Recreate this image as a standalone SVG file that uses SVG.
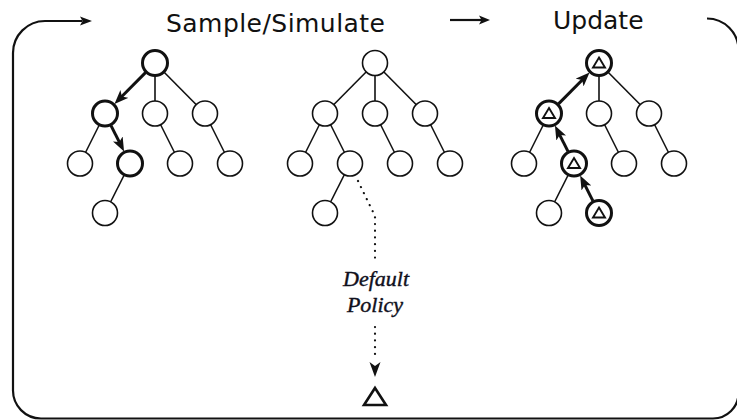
<svg xmlns="http://www.w3.org/2000/svg" width="737" height="420" viewBox="0 0 737 420">
  <style>
    .title { font-family: "DejaVu Sans", Verdana, sans-serif; font-size: 25px; fill: #111; }
    .policy { font-family: "Liberation Serif", "Times New Roman", serif; font-style: italic; font-size: 22px; fill: #10101c; stroke: #10101c; stroke-width: 0.4; text-anchor: middle; }
    .edge { stroke: #111; stroke-width: 1.6; fill: none; }
    .bold-edge { stroke: #111; stroke-width: 3; fill: none; marker-end: url(#head); }
    .node { fill: #fff; stroke: #111; stroke-width: 1.6; }
    .node-bold { fill: #fff; stroke: #111; stroke-width: 3; }
    .tri { fill: #fff; stroke: #111; stroke-width: 1.9; stroke-linejoin: miter; }
    .frame { fill: none; stroke: #111; stroke-width: 2.2; }
    .dots { fill: none; stroke: #111; stroke-width: 2.2; stroke-linecap: round; stroke-dasharray: 0.1 6.6; }
  </style>
  <defs>
    <marker id="head" markerUnits="userSpaceOnUse" markerWidth="14" markerHeight="11" viewBox="0 0 14 11" refX="5" refY="5.5" orient="auto">
      <path d="M0,0 L14,5.5 L0,11 L3.5,5.5 z" fill="#111"/>
    </marker>
  </defs>

  <!-- outer cycle frame with arrows -->
  <g id="cycle">
    <path class="frame" d="M82,21 L45,21 A32,32 0 0 0 13,53 L13,390 A28,28 0 0 0 41,418.5 L713,418.5 A25.5,25.5 0 0 0 738.5,393 L738.5,50 A31.5,31.5 0 0 0 707,18.5"/>
    <polygon points="80,16.5 92,21 80,25.5 82.5,21" fill="#111"/>
    <line x1="450" y1="20" x2="482" y2="20" stroke="#111" stroke-width="2.2"/>
    <polygon points="479,15.5 490,20 479,24.5 481.5,20" fill="#111"/>
  </g>

  <!-- titles -->
  <g id="label-sample">
    <text class="title" x="166" y="32" textLength="219" lengthAdjust="spacing">Sample/Simulate</text>
  </g>
  <g id="label-update">
    <text class="title" x="553" y="29">Update</text>
  </g>

  <!-- connectors -->
  <g id="connectors">
    <!-- tree 1 -->
    <line class="edge" x1="155" y1="63" x2="155" y2="113.5"/>
    <line class="edge" x1="155" y1="63" x2="205" y2="113.5"/>
    <line class="edge" x1="105" y1="113.5" x2="80" y2="163.5"/>
    <line class="edge" x1="155" y1="113.5" x2="180" y2="163.5"/>
    <line class="edge" x1="205" y1="113.5" x2="230" y2="163.5"/>
    <line class="edge" x1="130" y1="163.5" x2="105" y2="213"/>
    <line class="bold-edge" x1="145.5" y1="72.6" x2="120.8" y2="97.5"/>
    <line class="bold-edge" x1="111" y1="125.6" x2="120" y2="143.4"/>

    <!-- tree 2 -->
    <line class="edge" x1="375" y1="63" x2="325" y2="113.5"/>
    <line class="edge" x1="375" y1="63" x2="375" y2="113.5"/>
    <line class="edge" x1="375" y1="63" x2="425" y2="113.5"/>
    <line class="edge" x1="325" y1="113.5" x2="300" y2="163.5"/>
    <line class="edge" x1="325" y1="113.5" x2="350" y2="163.5"/>
    <line class="edge" x1="375" y1="113.5" x2="400" y2="163.5"/>
    <line class="edge" x1="425" y1="113.5" x2="450" y2="163.5"/>
    <line class="edge" x1="350" y1="163.5" x2="325" y2="213"/>

    <!-- tree 3 -->
    <line class="edge" x1="599" y1="63" x2="599" y2="113.5"/>
    <line class="edge" x1="599" y1="63" x2="649" y2="113.5"/>
    <line class="edge" x1="549" y1="113.5" x2="524" y2="163.5"/>
    <line class="edge" x1="599" y1="113.5" x2="624" y2="163.5"/>
    <line class="edge" x1="649" y1="113.5" x2="674" y2="163.5"/>
    <line class="edge" x1="574" y1="163.5" x2="549" y2="213"/>
    <line class="bold-edge" x1="592.9" y1="200.9" x2="584.2" y2="183.6"/>
    <line class="bold-edge" x1="568" y1="151.4" x2="559" y2="133.6"/>
    <line class="bold-edge" x1="558.5" y1="103.9" x2="583.2" y2="79"/>

    <!-- default policy rollout -->
    <path class="dots" d="M358,181 L375,216 L375,262"/>
    <path class="dots" d="M375,327 L375,360"/>
    <path d="M369.5,362 L375,366 L380.5,362 L375,377 z" fill="#111"/>
  </g>

  <!-- tree 1 nodes -->
  <g id="t1-root"><circle class="node-bold" cx="155" cy="63" r="12.5"/></g>
  <g id="t1-a"><circle class="node-bold" cx="105" cy="113.5" r="12.5"/></g>
  <g id="t1-b"><circle class="node" cx="155" cy="113.5" r="12.5"/></g>
  <g id="t1-c"><circle class="node" cx="205" cy="113.5" r="12.5"/></g>
  <g id="t1-aa"><circle class="node" cx="80" cy="163.5" r="12.5"/></g>
  <g id="t1-ab"><circle class="node-bold" cx="130" cy="163.5" r="12.5"/></g>
  <g id="t1-ba"><circle class="node" cx="180" cy="163.5" r="12.5"/></g>
  <g id="t1-ca"><circle class="node" cx="230" cy="163.5" r="12.5"/></g>
  <g id="t1-aba"><circle class="node" cx="105" cy="213" r="12.5"/></g>

  <!-- tree 2 nodes -->
  <g id="t2-root"><circle class="node" cx="375" cy="63" r="12.5"/></g>
  <g id="t2-a"><circle class="node" cx="325" cy="113.5" r="12.5"/></g>
  <g id="t2-b"><circle class="node" cx="375" cy="113.5" r="12.5"/></g>
  <g id="t2-c"><circle class="node" cx="425" cy="113.5" r="12.5"/></g>
  <g id="t2-aa"><circle class="node" cx="300" cy="163.5" r="12.5"/></g>
  <g id="t2-ab"><circle class="node" cx="350" cy="163.5" r="12.5"/></g>
  <g id="t2-ba"><circle class="node" cx="400" cy="163.5" r="12.5"/></g>
  <g id="t2-ca"><circle class="node" cx="450" cy="163.5" r="12.5"/></g>
  <g id="t2-aba"><circle class="node" cx="325" cy="213" r="12.5"/></g>

  <!-- tree 3 nodes -->
  <g id="t3-root"><circle class="node-bold" cx="599" cy="63" r="12.5"/><polygon class="tri" points="599,57.5 605,67.5 593,67.5"/></g>
  <g id="t3-a"><circle class="node-bold" cx="549" cy="113.5" r="12.5"/><polygon class="tri" points="549,108 555,118 543,118"/></g>
  <g id="t3-b"><circle class="node" cx="599" cy="113.5" r="12.5"/></g>
  <g id="t3-c"><circle class="node" cx="649" cy="113.5" r="12.5"/></g>
  <g id="t3-aa"><circle class="node" cx="524" cy="163.5" r="12.5"/></g>
  <g id="t3-ab"><circle class="node-bold" cx="574" cy="163.5" r="12.5"/><polygon class="tri" points="574,158 580,168 568,168"/></g>
  <g id="t3-ba"><circle class="node" cx="624" cy="163.5" r="12.5"/></g>
  <g id="t3-ca"><circle class="node" cx="674" cy="163.5" r="12.5"/></g>
  <g id="t3-aba"><circle class="node" cx="549" cy="213" r="12.5"/></g>
  <g id="t3-abb"><circle class="node-bold" cx="599" cy="213" r="12.5"/><polygon class="tri" points="599,207.5 605,217.5 593,217.5"/></g>

  <!-- rollout label and terminal outcome -->
  <g id="default-policy">
    <text class="policy" x="376" y="286">Default</text>
    <text class="policy" x="375" y="311.5">Policy</text>
  </g>
  <g id="outcome">
    <polygon points="375,388 386,405 364,405" fill="#fff" stroke="#111" stroke-width="2.6"/>
  </g>
</svg>
